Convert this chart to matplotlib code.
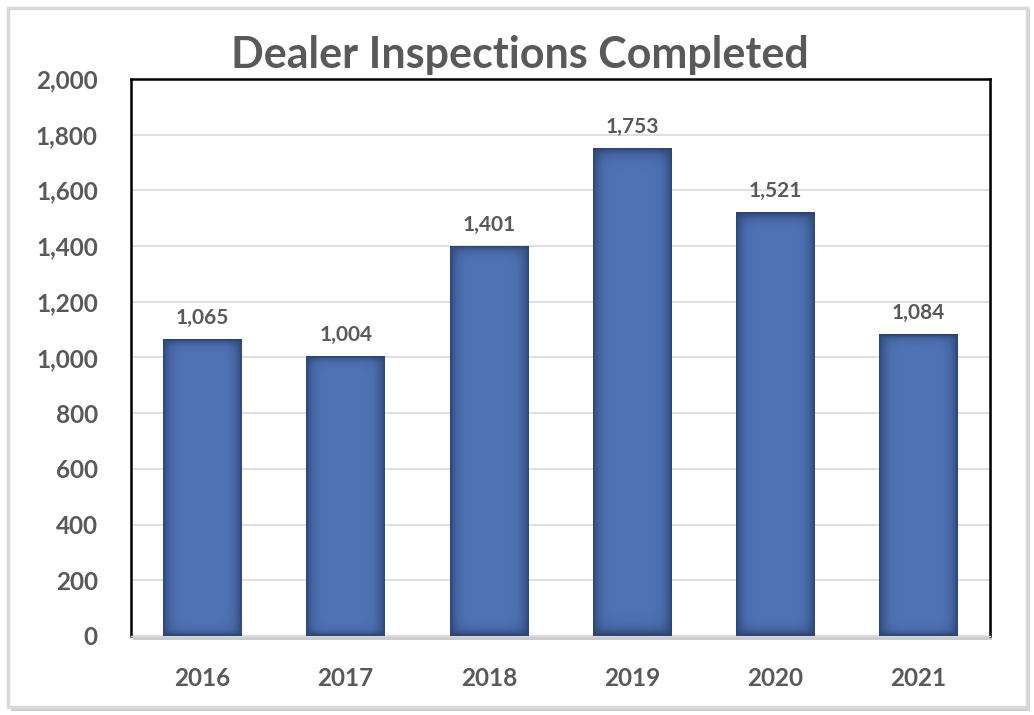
import matplotlib.pyplot as plt
import matplotlib.patches as mpatches
import numpy as np

# data
years = ['2016', '2017', '2018', '2019', '2020', '2021']
inspections = [1065, 1004, 1401, 1753, 1521, 1084]
y_ticks = [0, 200, 400, 600, 800, 1000, 1200, 1400, 1600, 1800, 2000]

txt_color = '#595959'
plt.rcParams['font.family'] = ['Lato', 'DejaVu Sans']
plt.rcParams['font.weight'] = 'bold'

fig = plt.figure(figsize=(10.34, 7.15), dpi=100)

# outer frame with shadow
fig.patches.append(mpatches.Rectangle((0.011, 0.005), 0.985, 0.982, transform=fig.transFigure,
                                      facecolor='#cfcfcf', edgecolor='none', zorder=0))
fig.patches.append(mpatches.Rectangle((0.008, 0.011), 0.985, 0.978, transform=fig.transFigure,
                                      facecolor='white', edgecolor='#d9d9d9', linewidth=2.5, zorder=1))

ax = fig.add_axes([0.1267, 0.1105, 0.8307, 0.779])
# shadow behind plot area
fig.patches.append(mpatches.Rectangle((0.1287, 0.1045), 0.8307, 0.779, transform=fig.transFigure,
                                      facecolor='#cccccc', edgecolor='none', zorder=2))
ax.set_zorder(3)

x = np.arange(len(years))
bars = ax.bar(x, inspections, width=0.55, color='#4f72b4', edgecolor='none', zorder=3)

# inner shading for bars
gx = np.linspace(-1, 1, 200)
shade = np.clip(1 - np.abs(gx) ** 6, 0, 1)
base = np.array([0x50, 0x73, 0xb6]) / 255
dark = np.array([0x2c, 0x45, 0x74]) / 255
for b in bars:
    sx = shade[None, :]
    sy = np.clip(1 - np.abs(gx) ** 40, 0, 1)[:, None]
    t = (sx * sy)[..., None]
    col = dark + (base - dark) * t
    im = ax.imshow(col, extent=[b.get_x(), b.get_x() + b.get_width(), 0, b.get_height()],
                   aspect='auto', zorder=4, interpolation='bilinear')
    im.set_clip_path(b)

for xi, v in zip(x, inspections):
    ax.text(xi, v + 40, f'{v:,}', ha='center', va='bottom', fontsize=15,
            color=txt_color, fontweight='bold')

ax.set_xlim(-0.5, len(years) - 0.5)
ax.set_ylim(0, 2000)
ax.set_yticks(y_ticks)
ax.set_yticklabels([f'{t:,}' for t in y_ticks])
ax.set_xticks(x)
ax.set_xticklabels(years)
ax.tick_params(axis='y', length=0, pad=24, labelsize=17.5, labelcolor=txt_color)
ax.tick_params(axis='x', length=0, pad=22, labelsize=17.5, labelcolor=txt_color)
ax.grid(axis='y', color='#d9d9d9', linewidth=1.2, zorder=0)
ax.set_axisbelow(True)
for s in ['left', 'top', 'right']:
    ax.spines[s].set_color('black')
    ax.spines[s].set_linewidth(1.8)
ax.spines['bottom'].set_color('#d9d9d9')
ax.spines['bottom'].set_linewidth(1.0)

fig.text(0.503, 0.923, 'Dealer Inspections Completed', ha='center', va='center',
         fontsize=31, color=txt_color, fontweight='bold')

plt.savefig('out.png', dpi=100)
